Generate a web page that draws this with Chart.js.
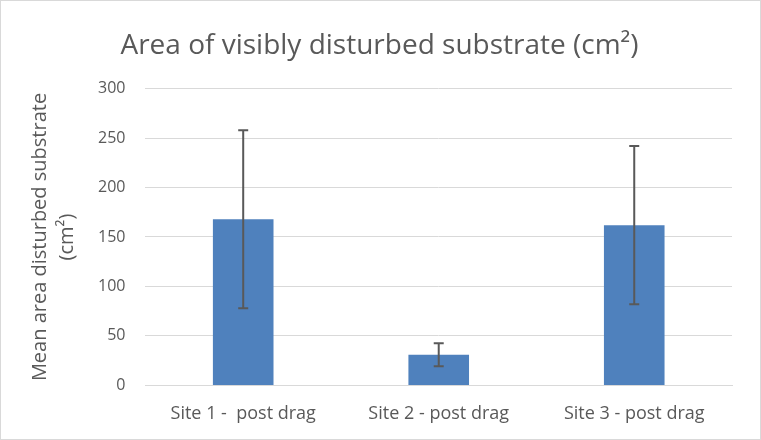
<!DOCTYPE html>
<html>
<head>
<meta charset="utf-8">
<script src="https://cdn.jsdelivr.net/npm/chart.js@4"></script>
<style>
  html, body { margin: 0; padding: 0; background: #fff; }
  #wrap { width: 761px; height: 440px; position: relative; }
</style>
</head>
<body>
<div id="wrap"><canvas id="chart" width="761" height="440"></canvas></div>
<script>
const sites = ['Site 1 -  post drag', 'Site 2 - post drag', 'Site 3 - post drag'];
const meanArea = [168, 31, 162];
const errArea = [90, 11.7, 80];
const yTicks = [0, 50, 100, 150, 200, 250, 300];

const textGrey = '#595959';
const fontName = "'Open Sans', 'Noto Sans', sans-serif";

// draws the whiskers on top of the bars
const errorBars = {
  id: 'errorBars',
  afterDatasetsDraw(chart) {
    const ctx = chart.ctx;
    const meta = chart.getDatasetMeta(0);
    const y = chart.scales.y;
    ctx.save();
    ctx.strokeStyle = '#595959';
    ctx.lineWidth = 2;
    meta.data.forEach((bar, i) => {
      const top = y.getPixelForValue(meanArea[i] + errArea[i]);
      const bot = y.getPixelForValue(meanArea[i] - errArea[i]);
      const x = bar.x;
      ctx.beginPath();
      ctx.moveTo(x, top); ctx.lineTo(x, bot);
      ctx.moveTo(x - 5, top); ctx.lineTo(x + 5, top);
      ctx.moveTo(x - 5, bot); ctx.lineTo(x + 5, bot);
      ctx.stroke();
    });
    ctx.restore();
  }
};

const frame = {
  id: 'frame',
  afterDraw(chart) {
    const ctx = chart.ctx;
    ctx.save();
    ctx.strokeStyle = '#d9d9d9';
    ctx.lineWidth = 1;
    ctx.strokeRect(0.5, 0.5, chart.width - 1, chart.height - 1);
    ctx.restore();
  }
};

new Chart(document.getElementById('chart').getContext('2d'), {
  type: 'bar',
  data: {
    labels: sites,
    datasets: [{
      data: meanArea,
      backgroundColor: '#4f81bd',
      categoryPercentage: 1,
      barPercentage: 0.31
    }]
  },
  options: {
    responsive: false,
    animation: false,
    layout: { padding: { left: 27, right: 29, top: 10, bottom: 5 } },
    plugins: {
      legend: { display: false },
      tooltip: { enabled: false },
      title: {
        display: true,
        text: 'Area of visibly disturbed substrate (cm²)',
        color: textGrey,
        font: { family: fontName, size: 28, weight: 'normal' },
        padding: { top: 19, bottom: 26 }
      }
    },
    scales: {
      x: {
        grid: { display: false },
        border: { color: '#d9d9d9', width: 1 },
        ticks: { color: textGrey, font: { family: fontName, size: 18 }, padding: 10 }
      },
      y: {
        min: 0,
        max: 300,
        afterBuildTicks(axis) { axis.ticks = yTicks.map(v => ({ value: v })); },
        grid: { color: '#d9d9d9', lineWidth: 1, drawTicks: false },
        border: { display: false },
        ticks: { color: textGrey, font: { family: fontName, size: 16 }, padding: 20 },
        title: {
          display: true,
          text: ['Mean area disturbed substrate', '(cm²)'],
          color: textGrey,
          font: { family: fontName, size: 20, lineHeight: 1.35 },
          padding: { top: 0, bottom: -3 }
        }
      }
    }
  },
  plugins: [errorBars, frame]
});
</script>
</body>
</html>
